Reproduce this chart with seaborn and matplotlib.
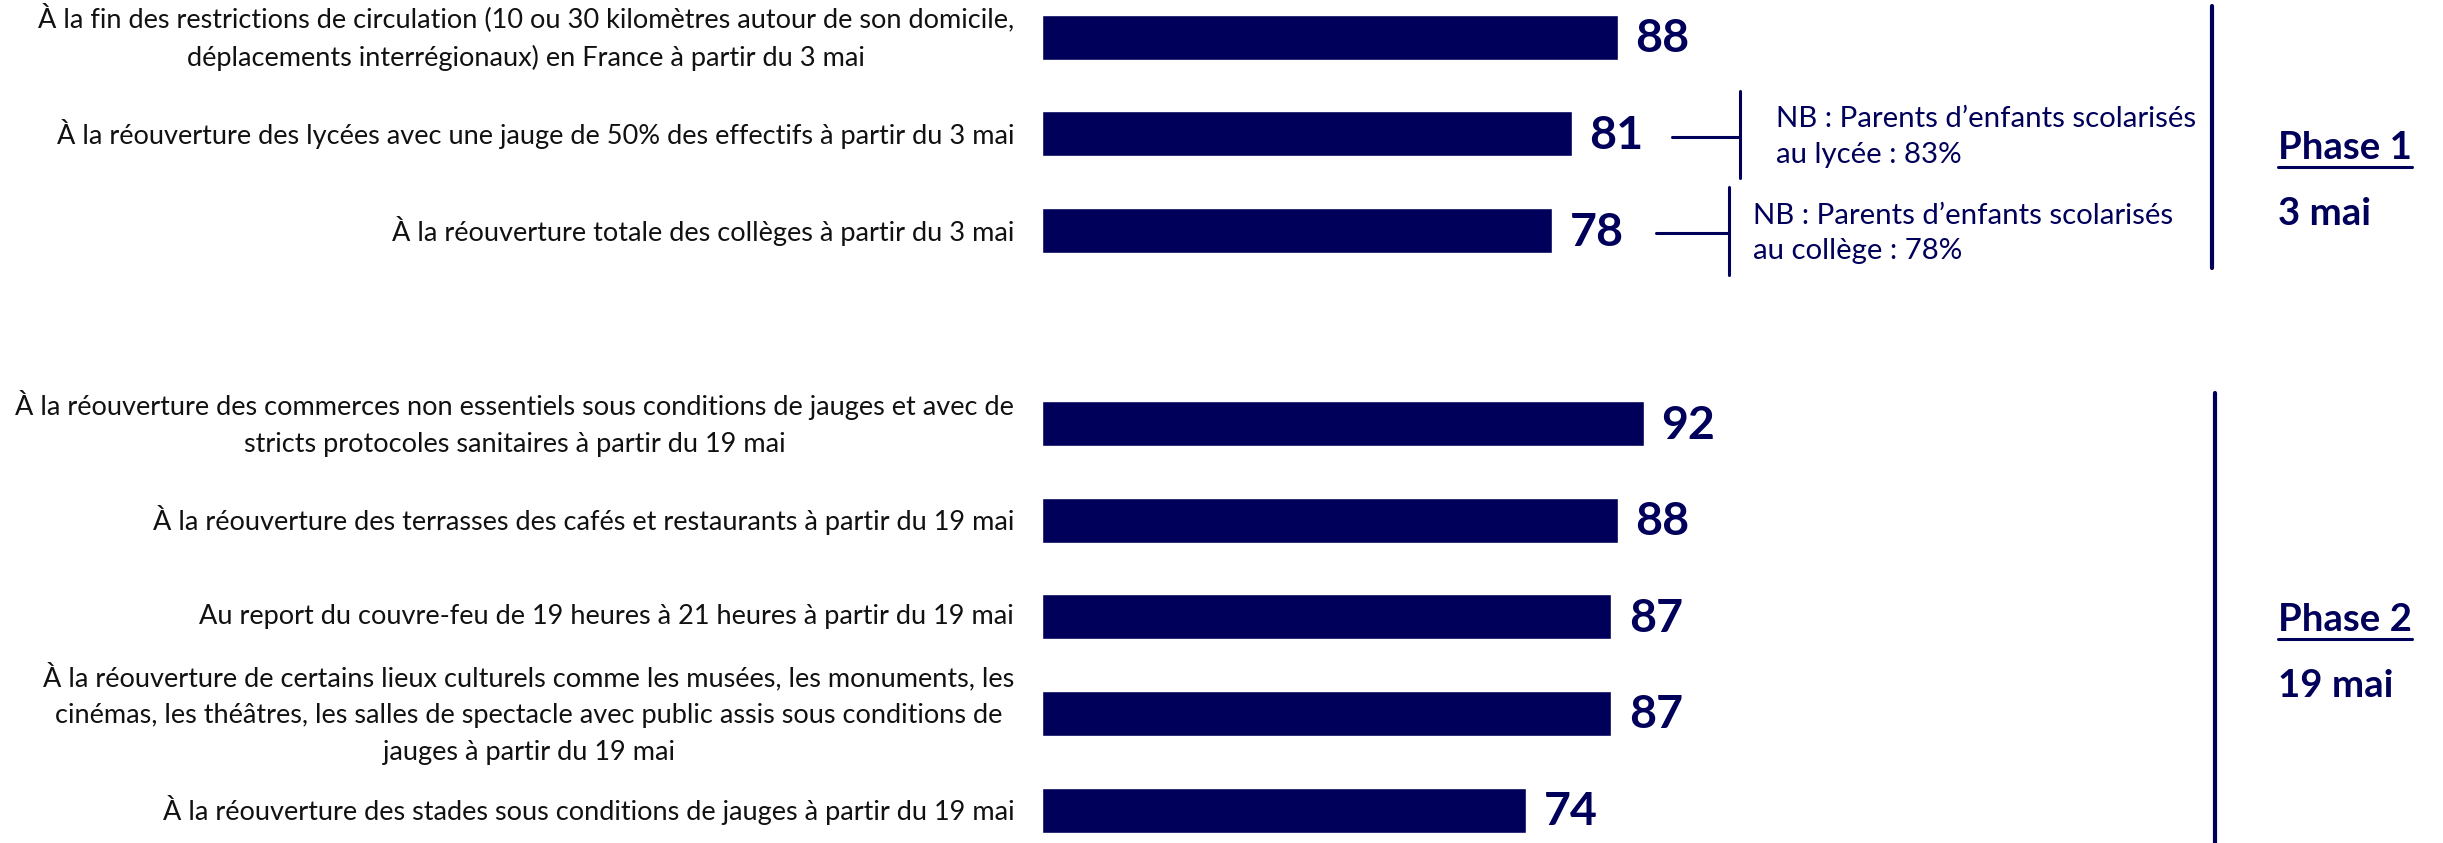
import numpy as np
import pandas as pd
import matplotlib
matplotlib.use("Agg")
import matplotlib.pyplot as plt
import seaborn as sns

# ---- data ----
labels = [
    "À la fin des restrictions de circulation (10 ou 30 kilomètres autour de son domicile,\ndéplacements interrégionaux) en France à partir du 3 mai",
    "À la réouverture des lycées avec une jauge de 50% des effectifs à partir du 3 mai",
    "À la réouverture totale des collèges à partir du 3 mai",
    "À la réouverture des commerces non essentiels sous conditions de jauges et avec de\nstricts protocoles sanitaires à partir du 19 mai",
    "À la réouverture des terrasses des cafés et restaurants à partir du 19 mai",
    "Au report du couvre-feu de 19 heures à 21 heures à partir du 19 mai",
    "À la réouverture de certains lieux culturels comme les musées, les monuments, les\ncinémas, les théâtres, les salles de spectacle avec public assis sous conditions de\njauges à partir du 19 mai",
    "À la réouverture des stades sous conditions de jauges à partir du 19 mai",
]
values = [88, 81, 78, 92, 88, 87, 87, 74]
phase = ["Phase 1", "Phase 1", "Phase 1", "Phase 2", "Phase 2", "Phase 2", "Phase 2", "Phase 2"]
phase_dates = {"Phase 1": "3 mai", "Phase 2": "19 mai"}
nb_notes = {
    1: "NB : Parents d’enfants scolarisés\nau lycée : 83%",
    2: "NB : Parents d’enfants scolarisés\nau collège : 78%",
}

NAVY = "#00005A"
FONT = ["Lato", "DejaVu Sans"]

sns.set_style("white")
plt.rcParams["font.family"] = FONT

# row slots, one empty slot between the two phases
slots = [0, 1, 2, 4, 5, 6, 7, 8]
df = pd.DataFrame({"slot": slots, "value": values, "label": labels, "phase": phase})

fig = plt.figure(figsize=(24.43, 8.43), dpi=100)
ax = fig.add_axes([1042 / 2443, 0, 654 / 2443, 1])

sns.barplot(
    data=df, x="value", y="slot", orient="h", native_scale=True,
    color=NAVY, width=0.466, saturation=1, ax=ax,
)

ax.set_xlim(0, 100)
ax.set_ylim(8.34, -0.387)
ax.set_yticks(df["slot"], df["label"])
ax.tick_params(axis="y", length=0, pad=20, labelsize=18, labelcolor="#111111")
for t in ax.get_yticklabels():
    t.set_multialignment("center")
    t.set_verticalalignment("center")
    t.set_linespacing(1.6)
ax.set_xticks([])
ax.set_xlabel("")
ax.set_ylabel("")
sns.despine(ax=ax, left=True, bottom=True)

# value labels
val_texts = []
for s, v in zip(df["slot"], df["value"]):
    val_texts.append(ax.text(v + 2.7, s + 0.02, f"{v}", va="center", ha="left",
                             fontsize=35, fontweight="bold", color=NAVY))

# NB notes with connectors
conn = {1: (96.3, 106.7, 112.2), 2: (93.9, 105.0, 108.7)}
nb_texts = []
for s, note in nb_notes.items():
    x0, x1, xt = conn[s]
    ax.plot([x0, x1], [s + 0.03, s + 0.03], color=NAVY, lw=2.2, clip_on=False)
    ax.plot([x1, x1], [s - 0.45, s + 0.46], color=NAVY, lw=2.2, clip_on=False)
    nb_texts.append(ax.text(xt, s + 0.03, note, va="center", ha="left", fontsize=20,
                            color=NAVY, linespacing=1.45, clip_on=False))

# phase brackets
ax.plot([178.9, 178.9], [-0.325, 2.39], color=NAVY, lw=3, clip_on=False)
ax.plot([179.4, 179.4], [3.68, 8.6], color=NAVY, lw=3, clip_on=False)

phase_pos = {"Phase 1": (1.15, 1.83), "Phase 2": (6.03, 6.71)}
phase_texts = []
for name, (y1, y2) in phase_pos.items():
    t = ax.text(189.0, y1, name, va="center", ha="left", fontsize=23,
                fontweight="bold", color=NAVY, clip_on=False)
    d = ax.text(189.0, y2, phase_dates[name], va="center", ha="left", fontsize=23,
                fontweight="bold", color=NAVY, clip_on=False)
    phase_texts.append((t, d))

# fit font sizes to the widths seen in the reference (pixels)
fig.canvas.draw()
r = fig.canvas.get_renderer()

def fit(texts, refs, targets):
    cur = sum(t.get_window_extent(r).width for t in refs)
    scale = sum(targets) / cur
    for t in texts:
        t.set_fontsize(t.get_fontsize() * scale)

ticks = ax.get_yticklabels()
fit(ticks, [ticks[1], ticks[3], ticks[5], ticks[7]], [956, 1003, 813, 855])
fit(val_texts, [val_texts[0]], [54])
fit(nb_texts, [nb_texts[0]], [421])
fit([x for p in phase_texts for x in p], [phase_texts[0][0]], [134])

fig.canvas.draw()
inv = fig.transFigure.inverted()
for t, _ in phase_texts:
    bb = t.get_window_extent(r)
    (fx0, fy0), (fx1, fy1) = inv.transform([(bb.x0, bb.y0 - 2), (bb.x1, bb.y0 - 2)])
    fig.add_artist(plt.Line2D([fx0, fx1], [fy0, fy1], color=NAVY, lw=2.2))

fig.savefig("out.png", dpi=100, facecolor="white")
